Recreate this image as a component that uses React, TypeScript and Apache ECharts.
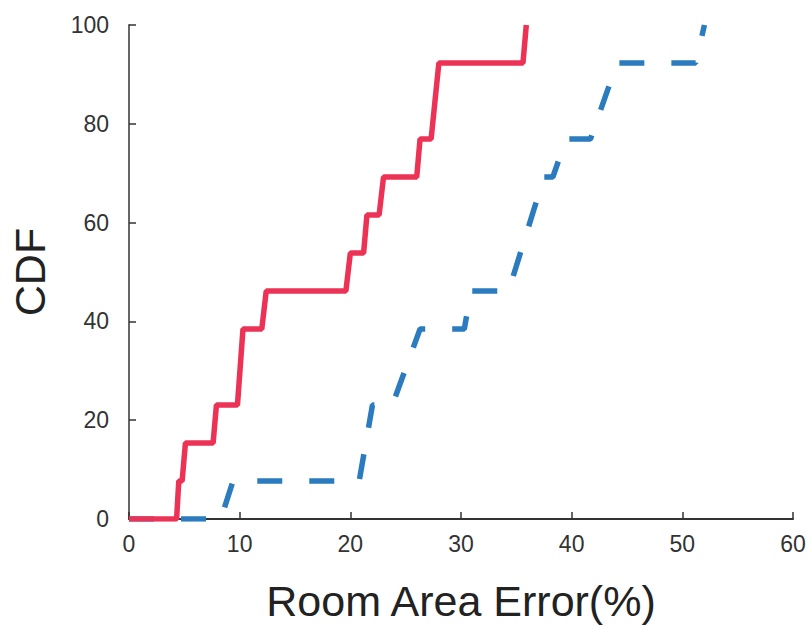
import React, { useEffect, useRef } from "react";
import * as echarts from "echarts";

const xTicks = [0, 10, 20, 30, 40, 50, 60];
const yTicks = [0, 20, 40, 60, 80, 100];

// Red (solid) CDF curve points: [error %, CDF %]
const redX = [0, 4.3, 4.5, 4.8, 5.1, 7.6, 7.9, 9.8, 10.3, 12.0, 12.4, 19.6, 20.0, 21.2, 21.5, 22.6, 23.0, 26.0, 26.3, 27.3, 28.0, 35.6, 35.9];
const redY = [0, 0, 7.69, 7.69, 15.38, 15.38, 23.08, 23.08, 38.46, 38.46, 46.15, 46.15, 53.85, 53.85, 61.54, 61.54, 69.23, 69.23, 76.92, 76.92, 92.31, 92.31, 100];

// Blue (dashed) CDF curve points
const blueX = [0, 8.3, 9.4, 20.8, 22.0, 23.8, 26.3, 30.3, 30.9, 34.3, 37.5, 38.3, 39.5, 41.7, 44.1, 51.2, 52.0];
const blueY = [0, 0, 7.69, 7.69, 23.08, 23.08, 38.46, 38.46, 46.15, 46.15, 69.23, 69.23, 76.92, 76.92, 92.31, 92.31, 100];

const FONT = "Liberation Sans";

export default function App() {
  const ref = useRef<HTMLDivElement>(null);
  useEffect(() => {
    if (!ref.current) return;
    const chart = echarts.init(ref.current, undefined, { renderer: "svg" });
    chart.setOption({
      animation: false,
      backgroundColor: "#ffffff",
      grid: { left: 126, right: 18, top: 25, bottom: 107, containLabel: false },
      xAxis: {
        type: "value",
        min: xTicks[0],
        max: xTicks[xTicks.length - 1],
        interval: 10,
        name: "Room Area Error(%)",
        nameLocation: "middle",
        nameGap: 60,
        nameTextStyle: { fontFamily: FONT, fontSize: 43, color: "#222" },
        axisLine: { show: true, lineStyle: { color: "#333", width: 2 } },
        axisTick: { show: true, inside: true, length: 7, lineStyle: { color: "#333", width: 1.5 } },
        axisLabel: { fontFamily: FONT, fontSize: 23, color: "#333", margin: 13 },
        splitLine: { show: false },
      },
      yAxis: {
        type: "value",
        min: yTicks[0],
        max: yTicks[yTicks.length - 1],
        interval: 20,
        name: "CDF",
        nameLocation: "middle",
        nameGap: 78,
        nameRotate: 90,
        nameTextStyle: { fontFamily: FONT, fontSize: 43, color: "#222" },
        axisLine: { show: true, lineStyle: { color: "#666", width: 2 } },
        axisTick: { show: true, inside: true, length: 7, lineStyle: { color: "#333", width: 1.5 } },
        axisLabel: { fontFamily: FONT, fontSize: 23, color: "#333", margin: 20 },
        splitLine: { show: false },
      },
      series: [
        {
          type: "line",
          data: blueX.map((x, i) => [x, blueY[i]]),
          showSymbol: false,
          symbol: "none",
          lineStyle: { color: "#2B7BBF", width: 5.5, type: [25, 27], cap: "butt" },
          z: 2,
        },
        {
          type: "line",
          data: redX.map((x, i) => [x, redY[i]]),
          showSymbol: false,
          symbol: "none",
          lineStyle: { color: "#EC3355", width: 5.5 },
          z: 3,
        },
      ],
    });
    return () => chart.dispose();
  }, []);
  return <div ref={ref} style={{ position: "absolute", left: 0, top: 0, width: 811, height: 627 }} />;
}
